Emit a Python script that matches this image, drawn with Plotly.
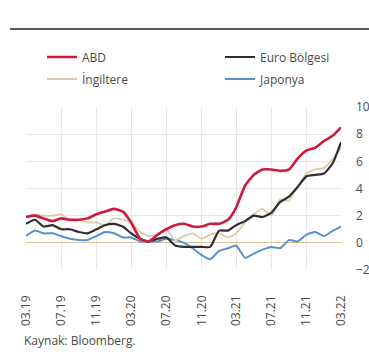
import plotly.graph_objects as go
import pandas as pd

# Monthly annual inflation (%), 03.2019 - 03.2022
months = pd.date_range("2019-03-01", "2022-03-01", freq="MS")

abd = [1.9, 2.0, 1.8, 1.6, 1.8, 1.7, 1.7, 1.8, 2.1, 2.3,
       2.5, 2.3, 1.5, 0.3, 0.1, 0.6, 1.0, 1.3, 1.4, 1.2, 1.2, 1.4,
       1.4, 1.7, 2.6, 4.2, 5.0, 5.4, 5.4, 5.3, 5.4, 6.2, 6.8, 7.0,
       7.5, 7.9, 8.5]
euro = [1.4, 1.7, 1.2, 1.3, 1.0, 1.0, 0.8, 0.7, 1.0, 1.3,
        1.4, 1.2, 0.7, 0.3, 0.1, 0.3, 0.4, -0.2, -0.3, -0.3, -0.3, -0.3,
        0.9, 0.9, 1.3, 1.6, 2.0, 1.9, 2.2, 3.0, 3.4, 4.1, 4.9, 5.0,
        5.1, 5.9, 7.4]
ingiltere = [1.9, 2.1, 2.0, 2.0, 2.1, 1.7, 1.7, 1.5, 1.5, 1.3,
             1.8, 1.7, 1.5, 0.8, 0.5, 0.6, 1.0, 0.2, 0.5, 0.7, 0.3, 0.6,
             0.7, 0.4, 0.7, 1.5, 2.1, 2.5, 2.0, 3.2, 3.1, 4.2, 5.1, 5.4,
             5.5, 6.2, 7.0]
japonya = [0.5, 0.9, 0.7, 0.7, 0.5, 0.3, 0.2, 0.2, 0.5, 0.8,
           0.7, 0.4, 0.4, 0.1, 0.1, 0.1, 0.3, 0.2, 0.0, -0.4, -0.9, -1.2,
           -0.6, -0.4, -0.2, -1.1, -0.8, -0.5, -0.3, -0.4, 0.2, 0.1, 0.6, 0.8,
           0.5, 0.9, 1.2]

y_ticks = [-2, 0, 2, 4, 6, 8, 10]

W, H = 369, 352
ML, MR, MT, MB = 26, 28, 107, 82
PW, PH = W - ML - MR, H - MT - MB


def px_x(px):
    return (px - ML) / PW


def px_y(py):
    return (H - MB - py) / PH


FONT = "Open Sans"
TXT = "#4a4a4a"

series = [
    # name, values, colour, width, legend id, legend left/centre (px)
    ("Japonya", japonya, "#5a8fd0", 2.0, "legend4", (220, 79)),
    ("İngiltere", ingiltere, "#dccbaa", 1.8, "legend3", (42, 79)),
    ("Euro Bölgesi", euro, "#2e2e2e", 2.2, "legend2", (220, 57)),
    ("ABD", abd, "#cf1a3e", 2.6, "legend", (42, 57)),
]

fig = go.Figure()
legends = {}
for name, vals, col, w, leg, (lx, ly) in series:
    fig.add_trace(go.Scatter(
        x=months, y=vals, name=name, mode="lines",
        line=dict(color=col, width=w, shape="spline", smoothing=0.5),
        legend=leg, showlegend=True,
    ))
    legends[leg] = dict(
        x=px_x(lx), y=px_y(ly), xanchor="left", yanchor="middle",
        orientation="h", bgcolor="rgba(0,0,0,0)",
        font=dict(family=FONT, size=12, color=TXT),
    )

fig.update_layout(
    width=W, height=H,
    showlegend=True,
    margin=dict(l=ML, r=MR, t=MT, b=MB, autoexpand=False),
    paper_bgcolor="white", plot_bgcolor="white",
    font=dict(family=FONT, size=12, color=TXT),
    xaxis=dict(
        type="date", automargin=False,
        range=["2019-03-01", "2022-03-01"],
        tick0="2019-03-01", dtick="M4", tickformat="%m.%y",
        tickangle=-90, ticklabelstandoff=22,
        tickfont=dict(family=FONT, size=12, color=TXT),
        showgrid=True, gridcolor="#e8e8e8", gridwidth=1,
        zeroline=False, showline=False, ticks="",
    ),
    yaxis=dict(
        range=[-2, 10], tickvals=y_ticks, side="right", automargin=False,
        ticklabelstandoff=14,
        tickfont=dict(family=FONT, size=12, color=TXT),
        showgrid=True, gridcolor="#e8e8e8", gridwidth=1,
        zeroline=True, zerolinecolor="#dcc29a", zerolinewidth=1.2,
        showline=False, ticks="",
    ),
    shapes=[dict(
        type="line", xref="paper", yref="paper",
        x0=px_x(10), x1=px_x(369), y0=px_y(29), y1=px_y(29),
        line=dict(color="#5a5a5a", width=2),
    )],
    annotations=[dict(
        text="Kaynak: Bloomberg.", xref="paper", yref="paper",
        x=px_x(22), y=px_y(340), xanchor="left", yanchor="middle",
        showarrow=False, font=dict(family=FONT, size=12, color=TXT),
    )],
)
fig.update_layout(**legends)

fig.write_html("out.html")
